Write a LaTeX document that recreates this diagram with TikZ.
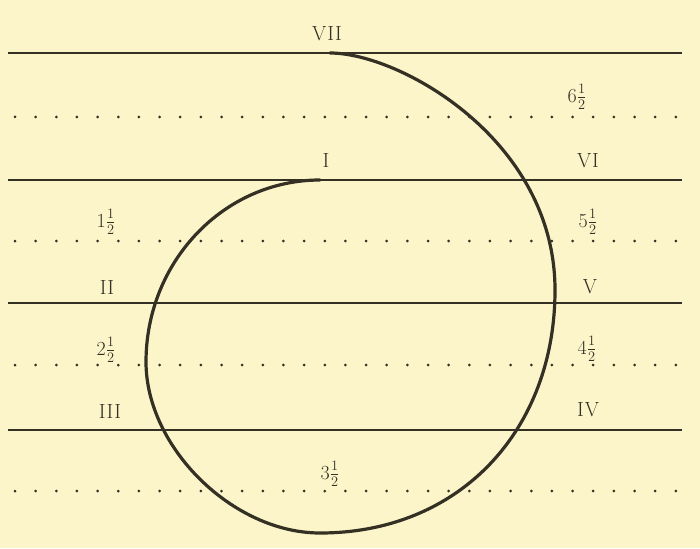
\documentclass[tikz,border=0pt]{standalone}
\usepackage{xcolor}
\definecolor{paper}{RGB}{253,245,202}
\definecolor{ink}{RGB}{52,48,36}
\begin{document}
\begin{tikzpicture}[x=1pt,y=-1pt,
  solidline/.style={ink,line width=1.5pt},
  curveline/.style={ink,line width=3.2pt,line cap=round,line join=round},
  lbl/.style={text=ink,font=\fontsize{20.5}{22}\selectfont,inner sep=0pt,anchor=center},
  flbl/.style={text=ink,font=\fontsize{20}{22}\selectfont,inner sep=0pt,anchor=center}]
\fill[paper] (0,0) rectangle (700,548);
\useasboundingbox (0,0) rectangle (700,548);
% solid lines
\foreach \y/\n in {53/a,180/b,303/c,430/d}{
  \coordinate (L\n) at (8,\y);
  \coordinate (R\n) at (682,\y);
  \draw[solidline] (L\n) -- (R\n);
}
% dotted lines
\foreach \y in {117,241,365,491}{
  \foreach \i in {0,...,32}{
    \fill[ink] (15+\i*20.65,\y) circle (1.5);
  }
}
% spiral
\coordinate (sI) at (320,180);
\coordinate (sL) at (146,362);
\coordinate (sB) at (320,533);
\coordinate (sR) at (555,290);
\coordinate (sT) at (330,53);
\draw[curveline] (sI) .. controls (224,180) and (146,261.5) .. (sL)
  .. controls (146,447.5) and (233,533) .. (sB)
  .. controls (460,533) and (555,430) .. (sR)
  .. controls (555,140) and (400,53) .. (sT);
% labels
\node[lbl] (n7) at (327,34) {V\kern1pt I\kern1pt I};
\node[flbl] (n65) at (577,97) {6$\frac{1}{2}$};
\node[lbl] (n1) at (326,160) {I};
\node[lbl] (n6) at (588,161) {V\kern1pt I};
\node[flbl] (n15) at (106,222) {1$\frac{1}{2}$};
\node[flbl] (n55) at (588,222) {5$\frac{1}{2}$};
\node[lbl] (n2) at (107,287) {I\kern1pt I};
\node[lbl] (n5) at (590,287) {V};
\node[flbl] (n25) at (106,350) {2$\frac{1}{2}$};
\node[flbl] (n45) at (587,349) {4$\frac{1}{2}$};
\node[lbl] (n3) at (110,411) {I\kern1pt I\kern1pt I};
\node[lbl] (n4) at (588,410) {I\kern1pt V};
\node[flbl] (n35) at (330,474) {3$\frac{1}{2}$};
\end{tikzpicture}
\end{document}
